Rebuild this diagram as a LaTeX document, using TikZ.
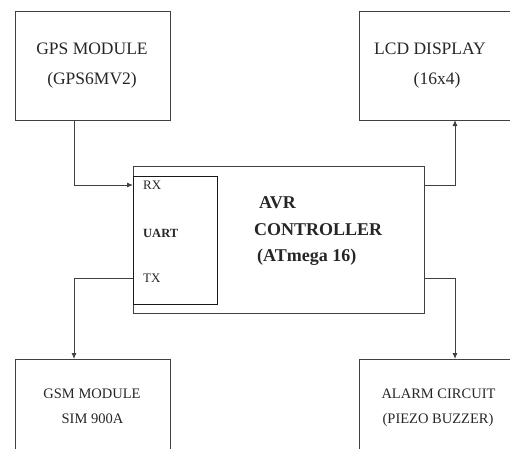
\documentclass[tikz,border=0pt]{standalone}
\usepackage{fontspec}
\setmainfont{Liberation Serif}
\usetikzlibrary{calc,arrows.meta}

\begin{document}
\begin{tikzpicture}[x=1pt,y=-1pt]
\tikzset{blk/.style={draw=black!75,line width=0.9pt,inner sep=0pt,outer sep=0pt,anchor=north west},
  big/.style={font=\fontsize{17.5}{19}\selectfont,text=black!85,inner sep=0pt},
  bold/.style={font=\fontsize{18}{20}\selectfont\bfseries,text=black!85,inner sep=0pt,anchor=west},
  pin/.style={font=\fontsize{13}{15}\selectfont,text=black!85,inner sep=0pt,anchor=west},
  low/.style={font=\fontsize{14.5}{16}\selectfont,text=black!85,inner sep=0pt},
  arr/.style={draw=black!75,line width=0.9pt,-{Latex[length=6pt,width=5pt]}}}
\useasboundingbox (0,0) rectangle (510,448);
% blocks
\node[blk,minimum width=155pt,minimum height=109pt] (gps) at (15,11) {};
\node[blk,minimum width=170pt,minimum height=109pt] (lcd) at (359,11) {};
\node[blk,minimum width=291pt,minimum height=147pt] (avr) at (133,166) {};
\node[blk,draw=black!90,minimum width=84pt,minimum height=128pt] (uart) at (133,176) {};
\node[blk,minimum width=155pt,minimum height=100pt] (gsm) at (15,359) {};
\node[blk,minimum width=170pt,minimum height=100pt] (alarm) at (359,359) {};
% texts
\node[big] (gpsA) at (92,49) {GPS MODULE};
\node[big] (gpsB) at (92,80) {(GPS6MV2)};
\node[big] (lcdA) at (430,49) {LCD DISPLAY};
\node[big] (lcdB) at (437,80) {(16x4)};
\node[bold] (avrA) at (259,203) {AVR};
\node[bold] (avrB) at (254,230) {CONTROLLER};
\node[bold] (avrC) at (257,257) {(ATmega 16)};
\node[pin] (rx) at (143,185) {RX};
\node[pin,font=\fontsize{12.5}{14}\selectfont\bfseries] (ua) at (143,233) {UART};
\node[pin] (tx) at (143,278) {TX};
\node[low] (gsmA) at (92,394) {GSM MODULE};
\node[low] (gsmB) at (92.5,419) {SIM 900A};
\node[low] (alA) at (438.5,394) {ALARM CIRCUIT};
\node[low] (alB) at (438,420) {(PIEZO BUZZER)};
% links
\draw[arr] ([xshift=-18.5pt]gps.south) |- (avr.west |- rx.west);
\draw[arr] (avr.east |- rx.west) -| ([xshift=11pt]lcd.south);
\draw[arr] (avr.west |- tx.west) -| ([xshift=-18.5pt]gsm.north);
\draw[arr] (avr.east |- tx.west) -| ([xshift=96pt]alarm.north west);
\end{tikzpicture}
\end{document}
